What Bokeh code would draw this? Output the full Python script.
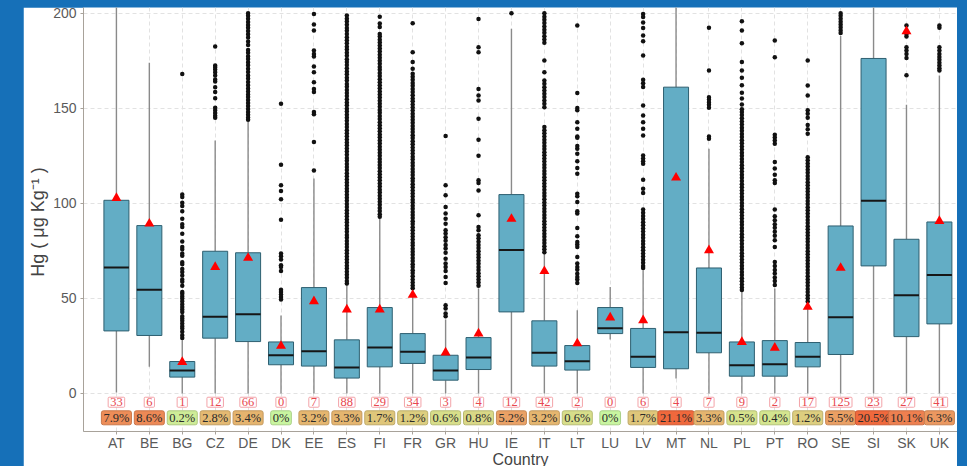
import math
from bokeh.plotting import figure
from bokeh.models import Range1d, FixedTicker
from bokeh.layouts import column
from bokeh.embed import file_html
from bokeh.resources import INLINE

countries = ["AT", "BE", "BG", "CZ", "DE", "DK", "EE", "ES", "FI", "FR", "GR", "HU", "IE",
             "IT", "LT", "LU", "LV", "MT", "NL", "PL", "PT", "RO", "SE", "SI", "SK", "UK"]
q1 = [32.9, 30.5, 8.6, 29.1, 27.3, 15.1, 14.4, 8.1, 14.0, 15.8, 7.0, 12.6, 42.9,
      14.4, 12.3, 31.5, 13.7, 13.0, 21.4, 9.1, 9.1, 14.0, 20.5, 67.1, 29.9, 36.6]
median = [66.2, 54.5, 12.1, 40.3, 41.7, 20.1, 22.2, 13.7, 24.2, 21.9, 12.1, 18.9, 75.5,
          21.4, 17.0, 34.3, 19.3, 32.2, 31.9, 14.9, 15.4, 19.3, 40.1, 101.4, 51.7, 62.3]
q3 = [101.6, 88.3, 16.8, 74.8, 74.0, 27.1, 55.7, 28.2, 45.2, 31.5, 20.1, 29.4, 104.6,
      38.2, 25.2, 45.2, 34.2, 161.1, 66.0, 27.1, 27.8, 26.8, 88.1, 176.2, 81.1, 90.2]
whisker_low = [0.5, 14.0, 0, 0, 0, 0, 0, 0, 0, 0, 0, 0, 0,
               0, 0, 28.4, 0, 7.9, 0, 0, 0, 0, 0, 0, 0, 0]
whisker_high = [215, 174, 28, 133, 143, 41, 113, 57, 92, 54.5, 38.9, 55.2, 191.8,
                73.6, 43.8, 56, 64.8, 235, 128.7, 53.9, 55.2, 47.3, 188, 245, 151.8, 167.3]
mean = [102.8, 89.3, 16.5, 66.5, 71.3, 25.0, 48.5, 44.1, 44.1, 51.8, 21.5, 31.5, 91.8,
        64.3, 26.3, 39.9, 38.5, 113.5, 75.3, 27.0, 24.0, 45.5, 66.0, 230, 190.5, 90.7]
n_labels = [33, 6, 1, 12, 66, 0, 7, 88, 29, 34, 3, 4, 12, 42, 2, 0, 6, 4, 7, 9, 2, 17, 125, 23, 27, 41]
pct = [7.9, 8.6, 0.2, 2.8, 3.4, 0, 3.2, 3.3, 1.7, 1.2, 0.6, 0.8, 5.2, 3.2, 0.6, 0, 1.7, 21.1,
       3.3, 0.5, 0.4, 1.2, 5.5, 20.5, 10.1, 6.3]
y_ticks = [0, 50, 100, 150, 200]

out_AT = []
out_BE = []
out_BG = [168, 104.7, 103.3, 100.3, 98.6, 95.8, 91.9, 89, 87.6, 84, 79.9, 77, 75.8, 73.6, 72.5,
          69, 68, 65.5, 63.9, 62, 59.9, 58.7, 56.7, 53.4, 52.5, 51.1, 49.9, 48.5, 46.9, 45.5,
          44.1, 42.9, 40.6, 39.4, 38.2, 36.8, 35.4, 34.2, 32.4, 30.6, 29.2]
out_CZ = [182.5, 172.5, 171.6, 170.4, 169, 167.2, 165.1, 164.1, 161.1, 158.5, 155.3, 150.3,
          148.9, 147.5, 146.1, 145]
out_DE = [200, 198.6, 197.1, 195.4, 193.8, 192.4, 190.6, 188.9, 187.2, 185.1, 183.3, 180.6,
          179.2, 177.4, 175.9, 174.2, 172.6, 170.8, 169.1, 167.3, 165.6, 163.8, 162.1, 160.4,
          158.8, 157.3, 155.9, 154.3, 152.8, 151.2, 149.6, 148.1, 146.6, 145.2, 144]
out_DK = [152.4, 120.3, 109.5, 106.5, 102.1, 91.4, 73.6, 72.2, 70.4, 67.4, 66.5, 64.4, 54.6,
          53.4, 52, 50.8, 49.4]
out_EE = [199.6, 194, 190.9, 180.4, 178.6, 177.2, 172, 169, 163.7, 160.2, 158.5, 148, 146.8,
          132.2, 117.3]
out_ES = [198.8, 197.1, 195.6, 193.9, 192.2, 190.8, 189.1, 187.3, 185.8, 184.2, 182.4, 180.9,
          179.2, 177.6, 175.8, 174.3, 172.7, 171.0, 169.4, 167.9, 166.1, 164.6, 162.8, 161.3,
          159.6, 158.0, 156.4, 154.7, 153.1, 151.6, 149.8, 148.3, 146.6, 145.0, 143.4, 141.7,
          140.2, 138.5, 136.9, 135.3, 133.6, 132.0, 130.5, 128.8, 127.2, 125.6, 123.9, 122.4,
          120.7, 119.1, 117.5, 115.8, 114.3, 112.6, 111.0, 109.4, 107.7, 106.2, 104.5, 102.9,
          101.3, 99.6, 98.1, 96.4, 94.8, 93.2, 91.5, 90.0, 88.3, 86.7, 85.1, 83.4, 81.9, 80.2,
          78.6, 77.0, 75.3, 73.8, 72.1, 70.5, 68.9, 67.2, 65.7, 64.0, 62.4, 60.8, 59.1, 57.8]
out_FI = [198.2, 194.6, 192.8, 189.1, 187.7, 186.1, 184.6, 183.0, 181.4, 179.9, 178.2, 176.6,
          175.0, 173.4, 171.7, 170.2, 168.5, 167.0, 165.3, 163.7, 162.1, 160.5, 158.8, 157.3,
          155.6, 154.0, 152.4, 150.8, 149.1, 147.6, 145.9, 144.4, 142.7, 141.1, 139.5, 137.9,
          136.2, 134.7, 133.0, 131.5, 129.8, 128.2, 126.6, 125.0, 123.3, 121.8, 120.1, 118.6,
          116.9, 115.3, 113.7, 112.1, 110.4, 108.9, 107.2, 105.7, 104.0, 102.4, 100.8, 99.2,
          97.5, 96.0, 94.3, 92.9]
out_FR = [194.7, 179.5, 174.3, 170.8, 168.2, 166.6, 165.0, 163.3, 161.8, 160.1, 158.5, 156.9,
          155.2, 153.7, 152.0, 150.4, 148.8, 147.1, 145.6, 143.9, 142.4, 140.7, 139.1, 137.5,
          135.8, 134.3, 132.6, 131.1, 129.4, 127.8, 126.2, 124.5, 123.0, 121.3, 119.8, 118.1,
          116.5, 114.9, 113.2, 111.7, 110.0, 108.5, 106.8, 105.2, 103.6, 101.9, 100.4, 98.7,
          97.2, 95.5, 93.9, 92.3, 90.6, 89.1, 87.4, 85.9, 84.2, 82.6, 81.0, 79.3, 77.8, 76.1,
          74.6, 72.9, 71.3, 69.7, 68.0, 66.5, 64.8, 63.3, 61.6, 60.0, 58.4, 56.8, 55.3]
out_GR = [135.4, 109.5, 104.2, 98.1, 94.6, 91.9, 89.3, 85.8, 84.1, 82.2, 80.3, 78.1, 76.2, 74.0,
          70.9, 68.3, 66.5, 64.4, 61.3, 58.1, 46.4, 44.7, 42.0, 40.6]
out_HU = [197, 182.1, 179.5, 160.2, 156.7, 154.1, 144.5, 133.5, 125, 112.1, 110.7, 106.8, 93.7,
          87.6, 85.8, 83.2, 81.6, 79.8, 78.1, 76.5, 74.8, 73.1, 71.5, 69.8, 68.2, 66.5, 64.9,
          63.2, 61.6, 59.9, 58.3, 56.6]
out_IE = [200]
out_IT = [200, 198.2, 196.5, 194.8, 193.0, 191.3, 189.7, 187.9, 186.2, 184.5, 175.1, 169.0,
          164.6, 162.9, 161.1, 159.4, 157.6, 155.9, 154.1, 152.4, 150.6, 140.1, 138.5, 136.8,
          135.2, 133.5, 131.9, 130.2, 128.6, 126.9, 125.3, 123.6, 122.0, 120.3, 118.7, 117.0,
          115.4, 113.7, 112.1, 110.4, 108.8, 107.1, 105.5, 103.8, 102.2, 100.5, 98.9, 97.2,
          95.6, 93.9, 92.3, 90.6, 89.0, 87.3, 85.7, 84.0, 82.4, 80.7, 79.1, 77.4, 75.8, 74.3]
out_LT = [193.5, 158, 150.1, 148.9, 142.7, 139.2, 135.2, 134.5, 130.1, 128.7, 126.1, 122.2,
          118.6, 115.6, 105.1, 103.7, 100.7, 95.8, 94.6, 87, 82.7, 79.7, 78.3, 77.1, 71.8, 68.3,
          66.5, 65.1, 63, 61.3, 59.9, 58.1]
out_LU = []
out_LV = [199.6, 198, 195.1, 192.2, 188.3, 185.2, 177.8, 165, 163.1, 161.2, 151.5, 146.2, 142.7,
          139.2, 135.7, 125.2, 123.6, 122.1, 120.8, 112.4, 107.7, 105.4, 96.7, 95.1, 93.4, 91.8,
          90.1, 88.5, 86.8, 85.2, 83.5, 81.9, 80.2, 78.6, 76.9, 75.3, 73.6, 72.0, 70.3, 68.7,
          67.0, 66.0]
out_MT = []
out_NL = [192.3, 169.9, 155.8, 154.6, 153.2, 151.8, 150.3, 135.2, 134]
out_PL = [195.8, 190.9, 184.2, 174.3, 169.9, 166.0, 162.1, 158.2, 155.1, 152.0, 149.5, 148.1,
          146.4, 144.8, 143.1, 141.5, 139.8, 138.2, 136.5, 134.9, 133.2, 131.6, 129.9, 128.3,
          126.6, 125.0, 123.3, 121.7, 120.0, 118.4, 116.7, 115.1, 113.4, 111.8, 110.1, 108.5,
          106.8, 105.2, 103.5, 101.9, 100.2, 98.6, 96.9, 95.3, 93.6, 92.0, 90.3, 88.7, 87.0,
          85.4, 83.7, 82.1, 80.4, 78.8, 77.1, 75.5, 73.8, 72.2, 70.5, 68.9, 67.2, 65.6, 63.9,
          62.3, 60.6, 59.0, 57.3, 55.7, 54.4]
out_PT = [185.6, 176.9, 136.1, 134.6, 133.0, 131.3, 121.7, 118.3, 115.1, 112.2, 110.7, 96.7,
          93.2, 91.1, 89.0, 87.1, 85.0, 83.0, 80.6, 77.1, 69.2, 67.1, 65.0, 63.1, 61.0, 59.1, 57.0]
out_RO = [175.1, 162, 156.7, 148.9, 147.1, 145.0, 141.2, 139.0, 136.6, 124.3, 122.7, 121.0,
          119.4, 117.7, 116.1, 114.4, 112.8, 111.1, 109.5, 107.8, 106.2, 104.5, 102.9, 101.2,
          99.6, 97.9, 96.3, 94.6, 93.0, 91.3, 89.7, 88.0, 86.4, 84.7, 83.1, 81.4, 79.8, 78.1,
          76.5, 74.8, 73.2, 71.5, 69.9, 68.2, 66.6, 64.9, 63.3, 61.6, 60.0, 58.3, 56.7, 55.0,
          53.4, 51.7, 50.1, 48.4]
out_SE = [200, 198.6, 197.1, 195.5, 194.0, 192.6, 191.1, 189.6]
out_SI = []
out_SK = [193.5, 189.1, 187.7, 182.1, 180.4, 178.6, 176.5, 167.4]
out_UK = [193.5, 192.3, 182.1, 180.4, 178.6, 177.0, 175.5, 174.0, 172.5, 171.0, 169.9]

outliers = [out_AT, out_BE, out_BG, out_CZ, out_DE, out_DK, out_EE, out_ES, out_FI, out_FR,
            out_GR, out_HU, out_IE, out_IT, out_LT, out_LU, out_LV, out_MT, out_NL, out_PL,
            out_PT, out_RO, out_SE, out_SI, out_SK, out_UK]

# ---- styling helpers ----
def pct_color(v):
    t = math.log10(1 + v) / math.log10(1 + 21.1)
    stops = [(0.0, (200, 245, 160)), (0.13, (214, 226, 140)), (0.26, (221, 205, 126)),
             (0.47, (229, 181, 111)), (0.62, (235, 156, 98)), (0.78, (238, 128, 80)),
             (1.0, (240, 104, 60))]
    for (t0, c0), (t1, c1) in zip(stops[:-1], stops[1:]):
        if t <= t1:
            f = (t - t0) / (t1 - t0)
            c = [c0[i] + f * (c1[i] - c0[i]) for i in range(3)]
            break
    else:
        c = stops[-1][1]
    return c

def hexc(c, k=1.0):
    return "#%02x%02x%02x" % tuple(int(max(0, min(255, round(x * k)))) for x in c)

xs = [i + 1 for i in range(len(countries))]
BW = 0.76
FONT = "Liberation Sans"

p = figure(width=934, height=466, x_range=Range1d(0, 26.55), y_range=Range1d(-20, 203),
           output_backend="svg", toolbar_location=None,
           min_border_left=60, min_border_right=0, min_border_top=0, min_border_bottom=42)
p.margin = (7, 10, 0, 23)
p.outline_line_color = None
p.background_fill_color = "white"
p.border_fill_color = "white"

p.xaxis.ticker = FixedTicker(ticks=xs)
p.xaxis.major_label_overrides = {x: c for x, c in zip(xs, countries)}
p.yaxis.ticker = FixedTicker(ticks=y_ticks)
for ax in (p.xaxis[0], p.yaxis[0]):
    ax.axis_line_color = "#a8a29a"
    ax.major_tick_line_color = "#a8a29a"
    ax.major_tick_out = 3
    ax.major_tick_in = 0
    ax.minor_tick_out = 0
    ax.minor_tick_in = 0
    ax.major_label_text_color = "#5a5a5a"
    ax.major_label_text_font = FONT
    ax.major_label_text_font_size = "14px"
    ax.axis_label_text_font = FONT
    ax.axis_label_text_font_style = "normal"
    ax.axis_label_text_color = "#444444"
    ax.axis_label_text_font_size = "16px"
p.xaxis.axis_label = "Country"
p.xaxis.major_label_standoff = 0
p.xaxis.axis_label_standoff = -3
p.yaxis.axis_label = "Hg ( μg  Kg⁻¹ )"
p.yaxis.axis_label_text_font_size = "18px"
p.yaxis.major_label_standoff = 4
p.yaxis.axis_label_standoff = 2

for g in (p.xgrid[0], p.ygrid[0]):
    g.grid_line_color = "#e2e2e2"
    g.grid_line_dash = "4 3"
    g.grid_line_width = 1

# whiskers
p.segment(x0=xs, y0=whisker_low, x1=xs, y1=q1, line_color="#8a8a8a", line_width=1.4)
p.segment(x0=xs, y0=q3, x1=xs, y1=whisker_high, line_color="#8a8a8a", line_width=1.4)
# boxes
p.vbar(x=xs, bottom=q1, top=q3, width=BW, fill_color="#63adc5", line_color="#2e5f70",
       line_width=1)
# medians
p.rect(x=xs, y=median, width=BW, height=2, height_units="screen", fill_color="#161616",
       line_color=None)
# outliers
ox, oy = [], []
for x, vals in zip(xs, outliers):
    ox += [x] * len(vals)
    oy += vals
p.scatter(ox, oy, size=4.5, fill_color="#111111", line_color=None)
# means
p.scatter(xs, mean, marker="triangle", size=10, fill_color="#ff0000", line_color=None)

# count labels
p.text(x=xs, y=[-4.6] * len(xs), text=[str(n) for n in n_labels],
       text_align="center", text_baseline="middle", text_font=FONT,
       text_font_size="12.5px", text_color="#e8474f",
       background_fill_color="white", border_line_color="#f3a3a8", border_line_width=1,
       padding=dict(x=2, y=1), border_radius=1)
# percentage labels
cols = [pct_color(v) for v in pct]
p.text(x=xs, y=[-12.8] * len(xs), text=["%g%%" % v for v in pct],
       text_align="center", text_baseline="middle", text_font=FONT,
       text_font_size="12.5px", text_color="#2a2a2a",
       background_fill_color=[hexc(c) for c in cols],
       border_line_color=[hexc(c, 0.85) for c in cols], border_line_width=1,
       padding=dict(x=2, y=0), border_radius=2)

layout = column(p, width=967, height=466,
                styles={"background-color": "#1670b8", "overflow": "hidden"})
open("out.html", "w").write(file_html(layout, INLINE))
